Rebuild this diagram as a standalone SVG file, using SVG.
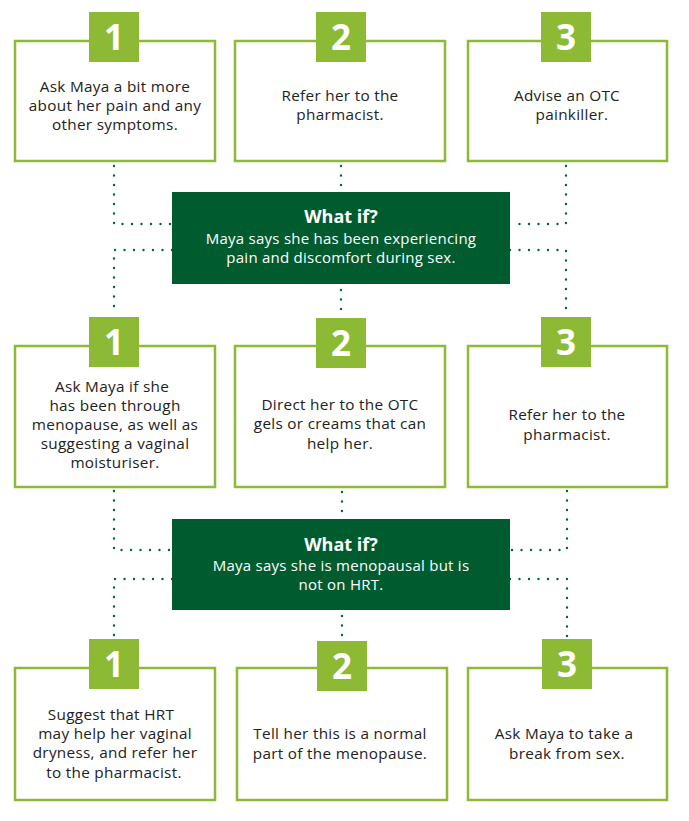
<svg xmlns="http://www.w3.org/2000/svg" width="689" height="821" viewBox="0 0 689 821">
<style>
.box{fill:#fff;stroke:#8DBA35;stroke-width:2.5}
.badge{fill:#8DBA35}
.num{font-family:"Open Sans","Liberation Sans",sans-serif;font-weight:700;font-size:35px;fill:#fff;text-anchor:middle}
.t{font-family:"Open Sans","Liberation Sans",sans-serif;font-size:15.3px;letter-spacing:0.3px;fill:#222;text-anchor:middle}
.q{fill:#005C2F}
.qh{font-family:"Open Sans","Liberation Sans",sans-serif;font-weight:700;font-size:18px;fill:#fff;text-anchor:middle}
.qt{font-family:"Open Sans","Liberation Sans",sans-serif;font-size:15px;letter-spacing:0.25px;fill:#fff;text-anchor:middle}
.dot{fill:none;stroke:#00663A;stroke-width:2.4;stroke-linecap:round;stroke-dasharray:0 9.5}
</style>
<g id="connectors">
<path class="dot" d="M114 166 V224 H172"/>
<path class="dot" d="M172 250 H114 V312"/>
<path class="dot" d="M566 166 V224 H510"/>
<path class="dot" d="M510 250 H566 V312"/>
<path class="dot" d="M341 166 V187"/>
<path class="dot" d="M341 290 V312"/>
<path class="dot" d="M114 491 V550 H172"/>
<path class="dot" d="M172 579 H114 V637"/>
<path class="dot" d="M567 491 V550 H510"/>
<path class="dot" d="M510 579 H567 V637"/>
<path class="dot" d="M342 492 V512"/>
<path class="dot" d="M342 616 V637"/>
</g>
<g id="a1">
<rect class="box" x="15" y="41" width="200" height="120"/>
<rect class="badge" x="89" y="12" width="50" height="50"/>
<text class="num" x="114" y="50">1</text>
<text class="t" x="115" y="92">Ask Maya a bit more</text>
<text class="t" x="115" y="111">about her pain and any</text>
<text class="t" x="115" y="130">other symptoms.</text>
</g>
<g id="a2">
<rect class="box" x="235" y="41" width="210" height="120"/>
<rect class="badge" x="316" y="12" width="50" height="50"/>
<text class="num" x="341" y="50">2</text>
<text class="t" x="340" y="101">Refer her to the</text>
<text class="t" x="340" y="120">pharmacist.</text>
</g>
<g id="a3">
<rect class="box" x="468" y="41" width="199" height="120"/>
<rect class="badge" x="541" y="12" width="50" height="50"/>
<text class="num" x="566" y="50">3</text>
<text class="t" x="567" y="101">Advise an OTC</text>
<text class="t" x="572" y="120">painkiller.</text>
</g>
<g id="q1">
<rect class="q" x="172" y="192" width="338" height="92"/>
<text class="qh" x="341" y="223">What if?</text>
<text class="qt" x="341" y="244">Maya says she has been experiencing</text>
<text class="qt" x="341" y="263">pain and discomfort during sex.</text>
</g>
<g id="b1">
<rect class="box" x="15" y="346" width="200" height="141"/>
<rect class="badge" x="89" y="317" width="50" height="50"/>
<text class="num" x="114" y="355">1</text>
<text class="t" x="112" y="392">Ask Maya if she</text>
<text class="t" x="115" y="411">has been through</text>
<text class="t" x="115" y="430">menopause, as well as</text>
<text class="t" x="115" y="449">suggesting a vaginal</text>
<text class="t" x="115" y="468">moisturiser.</text>
</g>
<g id="b2">
<rect class="box" x="235" y="346" width="210" height="141"/>
<rect class="badge" x="316" y="318" width="50" height="50"/>
<text class="num" x="341" y="356">2</text>
<text class="t" x="340" y="410">Direct her to the OTC</text>
<text class="t" x="340" y="429">gels or creams that can</text>
<text class="t" x="340" y="449">help her.</text>
</g>
<g id="b3">
<rect class="box" x="468" y="346" width="199" height="141"/>
<rect class="badge" x="541" y="317" width="50" height="50"/>
<text class="num" x="566" y="355">3</text>
<text class="t" x="567" y="420">Refer her to the</text>
<text class="t" x="567" y="440">pharmacist.</text>
</g>
<g id="q2">
<rect class="q" x="172" y="519" width="338" height="91"/>
<text class="qh" x="341" y="551">What if?</text>
<text class="qt" x="341" y="571">Maya says she is menopausal but is</text>
<text class="qt" x="341" y="590">not on HRT.</text>
</g>
<g id="c1">
<rect class="box" x="15" y="668" width="200" height="132"/>
<rect class="badge" x="89" y="639" width="50" height="50"/>
<text class="num" x="114" y="677">1</text>
<text class="t" x="111" y="720">Suggest that HRT</text>
<text class="t" x="115" y="739">may help her vaginal</text>
<text class="t" x="115" y="758">dryness, and refer her</text>
<text class="t" x="114" y="778">to the pharmacist.</text>
</g>
<g id="c2">
<rect class="box" x="237" y="668" width="210" height="132"/>
<rect class="badge" x="317" y="641" width="50" height="50"/>
<text class="num" x="342" y="679">2</text>
<text class="t" x="340" y="739">Tell her this is a normal</text>
<text class="t" x="340" y="759">part of the menopause.</text>
</g>
<g id="c3">
<rect class="box" x="468" y="668" width="199" height="132"/>
<rect class="badge" x="542" y="639" width="50" height="50"/>
<text class="num" x="567" y="677">3</text>
<text class="t" x="564" y="739">Ask Maya to take a</text>
<text class="t" x="567" y="759">break from sex.</text>
</g>
</svg>
